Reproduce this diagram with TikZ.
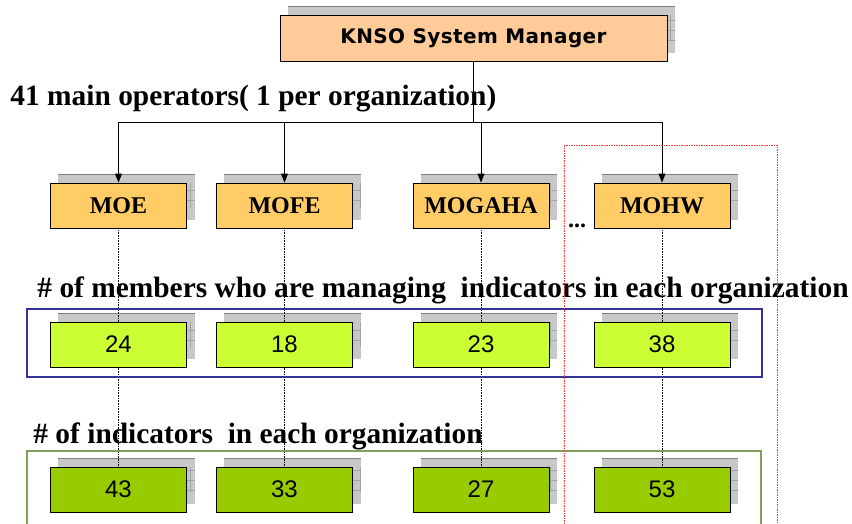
\documentclass[tikz,border=0pt]{standalone}
\usepackage{fontspec}
\setmainfont{Liberation Serif}
\newfontfamily\boxfont[LetterSpace=2]{DejaVu Sans}
\newfontfamily\numfont{Liberation Sans}
\usetikzlibrary{arrows.meta}
\usetikzlibrary{backgrounds}
\usetikzlibrary{calc}
\definecolor{topfill}{HTML}{FFCC99}
\definecolor{orgfill}{HTML}{FFCC66}
\definecolor{memfill}{HTML}{CCFF33}
\definecolor{indfill}{HTML}{99CC00}
\definecolor{shadowfill}{HTML}{C8C8C8}
\definecolor{shadowgrid}{HTML}{A4A4A4}
\definecolor{memframe}{HTML}{333399}
\definecolor{indframe}{HTML}{7F9F5F}
\definecolor{pickframe}{HTML}{FF3333}
\tikzstyle{topbox}=[draw,fill=topfill,minimum width=387pt,minimum height=46pt,inner sep=0pt,font=\boxfont\bfseries\fontsize{20}{20}\selectfont]
\tikzstyle{orgbox}=[draw,fill=orgfill,minimum width=136pt,minimum height=45pt,inner sep=0pt,font=\bfseries\fontsize{24}{24}\selectfont]
\tikzstyle{membox}=[orgbox,fill=memfill,font=\numfont\fontsize{24}{24}\selectfont]
\tikzstyle{indbox}=[orgbox,fill=indfill,font=\numfont\fontsize{24}{24}\selectfont]
\tikzstyle{heading}=[anchor=base west,inner sep=0pt,font=\bfseries\fontsize{29.4}{29.4}\selectfont]
\tikzstyle{link}=[-{Triangle[length=9pt,width=7pt]},line width=0.9pt]

\begin{document}
\begin{tikzpicture}[x=1pt,y=-1pt,line width=0.9pt]
\useasboundingbox (0,0) rectangle (852,523);
    \node [topbox] (knso) at (473.5,38) {KNSO System Manager};
    \node [heading] (ops) at (10,105) {41 main operators( 1 per organization)};

    \node [orgbox] (moe) at (118.5,205.5) {MOE};
    \node [orgbox] (mofe) at (284.5,205.5) {MOFE};
    \node [orgbox] (mogaha) at (481,205.5) {MOGAHA};
    \node [orgbox] (mohw) at (662,205.5) {MOHW};
    \node [anchor=base,inner sep=0pt,font=\bfseries\fontsize{24}{24}\selectfont] (more) at (577,227) {...};

    \node [heading] (members) at (37,297) {\# of members who are managing\ \ indicators in each organization};
    \node [membox] (m24) at (118.5,344.5) {24};
    \node [membox] (m18) at (284.5,344.5) {18};
    \node [membox] (m23) at (481,344.5) {23};
    \node [membox] (m38) at (662,344.5) {38};

    \node [heading] (indic) at (33,443) {\# of indicators\ \ in each organization};
    \node [indbox] (i43) at (118.5,489.5) {43};
    \node [indbox] (i33) at (284.5,489.5) {33};
    \node [indbox] (i27) at (481,489.5) {27};
    \node [indbox] (i53) at (662,489.5) {53};

    \coordinate (bus) at (473.5,122);
    \draw (knso) -- (bus);
    \foreach \n in {moe,mofe,mogaha,mohw}
        \draw [link] (bus) -| (\n);

    \draw [memframe,line width=1.2pt] (27,309) rectangle (762,377);
    \draw [indframe,line width=1.2pt] (27,451) rectangle (761,540);
    \draw [color=pickframe,dash pattern=on 1.5pt off 1pt,line width=1pt] (564,145) rectangle (777,540);

\begin{scope}[on background layer]
    \fill [white] (0,0) rectangle (852,523);
    \foreach \n in {knso,moe,mofe,mogaha,mohw,m24,m18,m23,m38,i43,i33,i27,i53} {
        \begin{scope}
        \clip ($(\n.south west)+(8,-8)$) rectangle ($(\n.north east)+(8,-8)$);
        \fill [shadowfill] ($(\n.south west)+(8,-8)$) rectangle ($(\n.north east)+(8,-8)$);
        \draw [shadowgrid,line width=0.6pt,step=10pt] ($(\n.south west)+(0,-20)$) grid ($(\n.north east)+(20,0)$);
        \draw [gray,line width=1.2pt] ($(\n.north west)+(8,-8)$) -- ($(\n.north east)+(8,-8)$);
        \end{scope}
    }
    \draw [densely dotted,line width=0.6pt] (moe) -- (i43);
    \draw [densely dotted,line width=0.6pt] (mofe) -- (i33);
    \draw [densely dotted,line width=0.6pt] (mogaha) -- (i27);
    \draw [densely dotted,line width=0.6pt] (mohw) -- (i53);
\end{scope}
\end{tikzpicture}
\end{document}
